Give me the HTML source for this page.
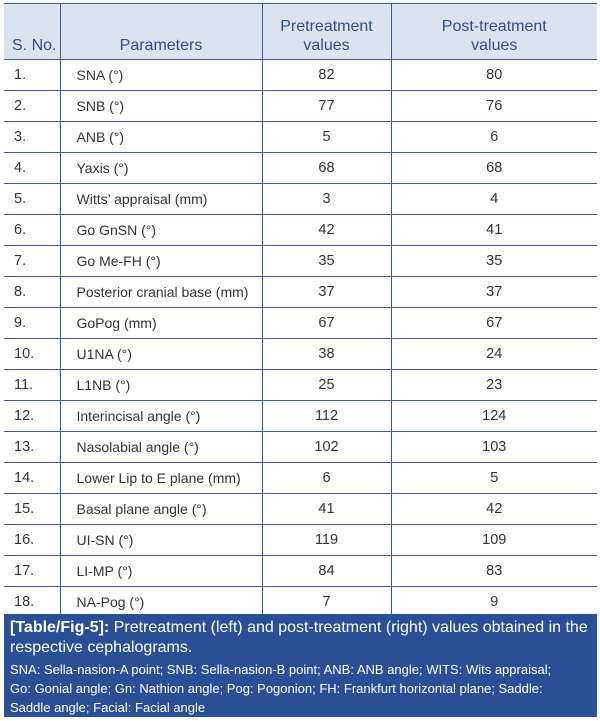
<!DOCTYPE html>
<html><head><style>
body{margin:0;width:600px;height:721px;background:#fff;font-family:"Liberation Sans",sans-serif;}
table{position:absolute;left:4px;top:3px;width:593px;border-collapse:collapse;table-layout:fixed;}
td,th{border:1px solid #3d5a96;font-size:14.5px;color:#333;padding:0 0 0 10px;height:30px;}
td:nth-child(2){padding-left:16px;font-size:14px}
th{background:#dde3ee;color:#2e4f8e;font-weight:normal;height:51px;font-size:16px;line-height:19px;text-align:center;padding:0;vertical-align:bottom;padding-bottom:4px}
th.l{text-align:left;padding-left:8px}
td.c{text-align:center;padding:0}
tr>*:first-child{border-left:none}
tr>*:last-child{border-right:none}
.cap{position:absolute;left:4px;top:614px;width:593px;height:103px;background:#2b4f97;color:#fff;box-sizing:border-box;padding:4px 6px;}
.cap .a{font-size:16px;line-height:20px}
.cap .b{font-size:13px;line-height:19px;margin-top:2px}
</style></head><body>
<table>
<colgroup><col style="width:56px"><col style="width:202px"><col style="width:129px"><col style="width:206px"></colgroup>
<tr><th class="l">S. No.</th><th>Parameters</th><th>Pretreatment<br>values</th><th>Post-treatment<br>values</th></tr>
<tr><td>1.</td><td>SNA (°)</td><td class="c">82</td><td class="c">80</td></tr>
<tr><td>2.</td><td>SNB (°)</td><td class="c">77</td><td class="c">76</td></tr>
<tr><td>3.</td><td>ANB (°)</td><td class="c">5</td><td class="c">6</td></tr>
<tr><td>4.</td><td>Yaxis (°)</td><td class="c">68</td><td class="c">68</td></tr>
<tr><td>5.</td><td>Witts’ appraisal (mm)</td><td class="c">3</td><td class="c">4</td></tr>
<tr><td>6.</td><td>Go GnSN (°)</td><td class="c">42</td><td class="c">41</td></tr>
<tr><td>7.</td><td>Go Me-FH (°)</td><td class="c">35</td><td class="c">35</td></tr>
<tr><td>8.</td><td>Posterior cranial base (mm)</td><td class="c">37</td><td class="c">37</td></tr>
<tr><td>9.</td><td>GoPog (mm)</td><td class="c">67</td><td class="c">67</td></tr>
<tr><td>10.</td><td>U1NA (°)</td><td class="c">38</td><td class="c">24</td></tr>
<tr><td>11.</td><td>L1NB (°)</td><td class="c">25</td><td class="c">23</td></tr>
<tr><td>12.</td><td>Interincisal angle (°)</td><td class="c">112</td><td class="c">124</td></tr>
<tr><td>13.</td><td>Nasolabial angle (°)</td><td class="c">102</td><td class="c">103</td></tr>
<tr><td>14.</td><td>Lower Lip to E plane (mm)</td><td class="c">6</td><td class="c">5</td></tr>
<tr><td>15.</td><td>Basal plane angle (°)</td><td class="c">41</td><td class="c">42</td></tr>
<tr><td>16.</td><td>UI-SN (°)</td><td class="c">119</td><td class="c">109</td></tr>
<tr><td>17.</td><td>LI-MP (°)</td><td class="c">84</td><td class="c">83</td></tr>
<tr><td>18.</td><td>NA-Pog (°)</td><td class="c">7</td><td class="c">9</td></tr>
</table>
<div class="cap"><div class="a"><b>[Table/Fig-5]:</b> Pretreatment (left) and post-treatment (right) values obtained in the respective cephalograms.</div>
<div class="b">SNA: Sella-nasion-A point; SNB: Sella-nasion-B point; ANB: ANB angle; WITS: Wits appraisal;<br>Go: Gonial angle; Gn: Nathion angle; Pog: Pogonion; FH: Frankfurt horizontal plane; Saddle:<br>Saddle angle; Facial: Facial angle</div></div>
</body></html>
